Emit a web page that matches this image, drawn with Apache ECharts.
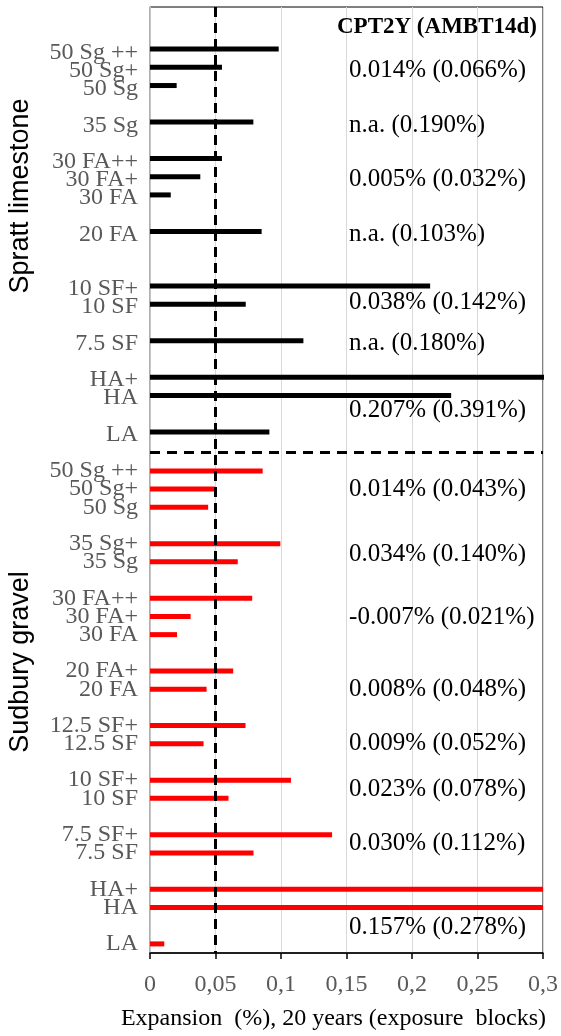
<!DOCTYPE html>
<html><head><meta charset="utf-8">
<script src="https://cdn.jsdelivr.net/npm/echarts@6/dist/echarts.min.js"></script>
<style>html,body{margin:0;padding:0;background:#fff}#c{width:561px;height:1036px}</style>
</head><body><div id="c"></div><script>
// Category slots (blank strings are empty spacer slots), top to bottom
const categories = ['', '', '50 Sg ++', '50 Sg+', '50 Sg', '', '35 Sg', '', '30 FA++', '30 FA+', '30 FA', '', '20 FA', '', '', '10 SF+', '10 SF', '', '7.5 SF', '', 'HA+', 'HA', '', 'LA', '',
  '50 Sg ++', '50 Sg+', '50 Sg', '', '35 Sg+', '35 Sg', '', '30 FA++', '30 FA+', '30 FA', '', '20 FA+', '20 FA', '', '12.5 SF+', '12.5 SF', '', '10 SF+', '10 SF', '', '7.5 SF+', '7.5 SF', '', 'HA+', 'HA', '', 'LA'];
// Spratt limestone expansions (%), aligned to categories
const sprattValues = [null, null, 0.098, 0.0548, 0.0203, null, 0.0787, null, 0.0548, 0.0383, 0.0158, null, 0.085, null, null, 0.2133, 0.0729, null, 0.1168, null, 0.34, 0.2293, null, 0.0909, null,
  null, null, null, null, null, null, null, null, null, null, null, null, null, null, null, null, null, null, null, null, null, null, null, null, null, null, null];
// Sudbury gravel expansions (%), aligned to categories
const sudburyValues = [null, null, null, null, null, null, null, null, null, null, null, null, null, null, null, null, null, null, null, null, null, null, null, null, null,
  0.086, 0.0495, 0.0444, null, 0.0995, 0.067, null, 0.078, 0.031, 0.0206, null, 0.0635, 0.0432, null, 0.0729, 0.0409, null, 0.1076, 0.0599, null, 0.139, 0.079, null, 0.34, 0.34, null, 0.0109];
const limitValue = 0.05;
const separatorSlot = 24;
const cptHeader = 'CPT2Y (AMBT14d)';
const cptLabels = ['0.014% (0.066%)', 'n.a. (0.190%)', '0.005% (0.032%)', 'n.a. (0.103%)', '0.038% (0.142%)', 'n.a. (0.180%)', '0.207% (0.391%)',
  '0.014% (0.043%)', '0.034% (0.140%)', '-0.007% (0.021%)', '0.008% (0.048%)', '0.009% (0.052%)', '0.023% (0.078%)', '0.030% (0.112%)', '0.157% (0.278%)'];
const cptSlots = [3, 6, 9, 12, 15.75, 18, 21.7, 26, 29.6, 33.07, 37, 40, 42.5, 45.5, 50.1];
const groupNames = ['Spratt limestone', 'Sudbury gravel'];
const xAxisTitle = 'Expansion  (%), 20 years (exposure  blocks)';

const serif = '"Liberation Serif", "Times New Roman", serif';
const chart = echarts.init(document.getElementById('c'), null, {renderer: 'canvas'});
const fmt = v => String(Math.round(v * 100) / 100).replace('.', ',');

chart.setOption({
  animation: false,
  backgroundColor: '#fff',
  grid: [
    {left: 150, right: 17, top: 7, bottom: 81, show: true, borderColor: '#000', borderWidth: 1},
    {left: 150, right: 17, top: 3.5, bottom: 84.5, show: false}
  ],
  xAxis: [
    {type: 'value', gridIndex: 0, min: 0, max: 0.3, interval: 0.05,
     name: xAxisTitle, nameLocation: 'middle', nameGap: 54,
     nameTextStyle: {fontFamily: serif, fontSize: 24, color: '#000', padding: [0, 26, 0, 0]},
     axisLine: {show: true, lineStyle: {color: '#000', width: 1.5}},
     axisTick: {show: true, length: 6, lineStyle: {color: '#000', width: 1.5}},
     axisLabel: {fontFamily: serif, fontSize: 24, color: '#595959', margin: 20, formatter: fmt},
     splitLine: {show: true, lineStyle: {color: '#d9d9d9', width: 1}}},
    {type: 'value', gridIndex: 1, min: 0, max: 0.3, show: false}
  ],
  yAxis: [
    {type: 'category', gridIndex: 0, inverse: true, data: categories,
     axisLine: {show: true, lineStyle: {color: '#bfbfbf', width: 1.5}},
     axisTick: {show: false},
     axisLabel: {interval: 0, fontFamily: serif, fontSize: 24, color: '#595959', margin: 12},
     splitLine: {show: false}},
    {type: 'category', gridIndex: 1, inverse: true, data: categories, show: false}
  ],
  series: [
    {type: 'bar', name: 'Spratt limestone', xAxisIndex: 1, yAxisIndex: 1, data: sprattValues,
     barWidth: 5, itemStyle: {color: '#000'}, clip: true},
    {type: 'bar', name: 'Sudbury gravel', xAxisIndex: 0, yAxisIndex: 0, data: sudburyValues,
     barWidth: 5, itemStyle: {color: '#ff0000'}, clip: true,
     markLine: {silent: true, symbol: 'none', z: 10, label: {show: false},
       data: [
         {xAxis: limitValue, lineStyle: {color: '#000', width: 3, type: [10, 6]}},
         {yAxis: separatorSlot, lineStyle: {color: '#000', width: 3, type: [10, 7]}}
       ]}}
  ]
});

// Annotations positioned through the axes
const px = v => chart.convertToPixel({xAxisIndex: 0}, v);
const slotY = s => {
  const f = Math.floor(s), a = chart.convertToPixel({yAxisIndex: 0}, f), b = chart.convertToPixel({yAxisIndex: 0}, f + 1);
  return a + (s - f) * (b - a);
};
const graphics = [];
graphics.push({type: 'text', x: px(0.2954), y: slotY(0.6), z: 20,
  style: {text: cptHeader, font: 'bold 23px ' + serif, fill: '#000', align: 'right', verticalAlign: 'middle'}});
cptLabels.forEach((t, i) => graphics.push({type: 'text', x: px(0.152), y: slotY(cptSlots[i]), z: 20,
  style: {text: t, font: '25px ' + serif, fill: '#000', align: 'left', verticalAlign: 'middle'}}));
graphics.push({type: 'text', x: 21, y: 196, rotation: Math.PI / 2, z: 20,
  style: {text: groupNames[0], font: '27px "Liberation Sans", Arial, sans-serif', fill: '#000', align: 'center', verticalAlign: 'middle'}});
graphics.push({type: 'text', x: 21, y: 662, rotation: Math.PI / 2, z: 20,
  style: {text: groupNames[1], font: '27px "Liberation Sans", Arial, sans-serif', fill: '#000', align: 'center', verticalAlign: 'middle'}});
chart.setOption({graphic: graphics});
</script></body></html>
